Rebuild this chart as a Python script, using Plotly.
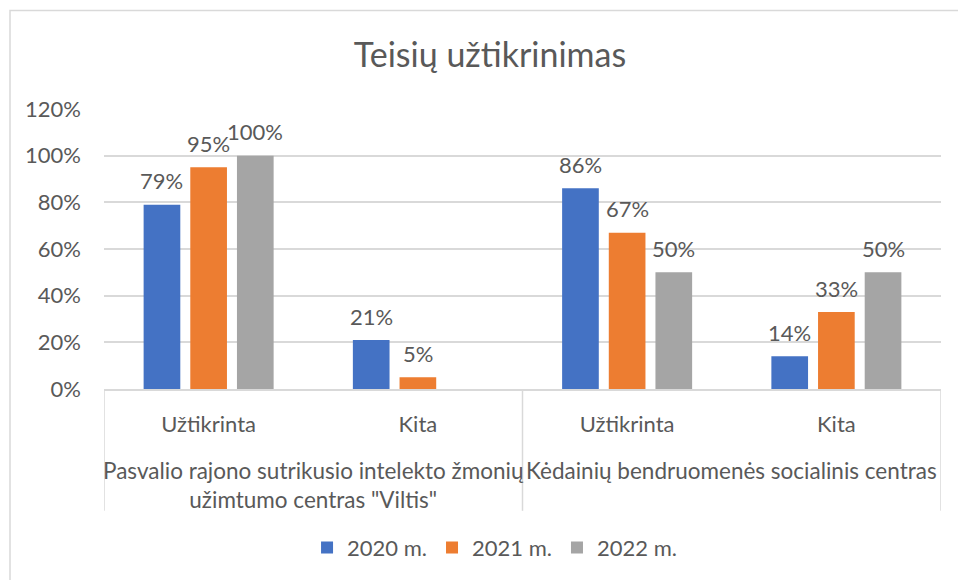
import plotly.graph_objects as go

# ---- data ----
groups = ['Pasvalio rajono sutrikusio intelekto žmonių<br>užimtumo centras "Viltis"',
          'Kėdainių bendruomenės socialinis centras']
subcats = ["Užtikrinta", "Kita", "Užtikrinta", "Kita"]
cat_group = [0, 0, 1, 1]
series_names = ["2020 m.", "2021 m.", "2022 m."]
values_2020 = [0.79, 0.21, 0.86, 0.14]
values_2021 = [0.95, 0.05, 0.67, 0.33]
values_2022 = [1.00, None, 0.50, 0.50]
y_ticks = [0, 0.2, 0.4, 0.6, 0.8, 1.0, 1.2]

colors = ["#4472C4", "#ED7D31", "#A5A5A5"]
TXT = "#595959"
GRID = "#D9D9D9"
FONT = "Lato"

W, H = 958, 580
ML, MR, MT, MB = 104, 17, 109, 191
BARGAP, GROUPGAP = 0.331, 0.214

xpos = list(range(len(subcats)))
all_series = [values_2020, values_2021, values_2022]

fig = go.Figure()
for name, vals, col in zip(series_names, all_series, colors):
    fig.add_trace(go.Bar(x=xpos, y=vals, name=name, marker_color=col, marker_line_width=0))

# data labels: annotations anchored to each bar's value through the axes
plot_w = W - ML - MR
slot_px = plot_w / len(xpos) * (1 - BARGAP) / len(all_series)
annotations = []
for si, vals in enumerate(all_series):
    shift = (si - (len(all_series) - 1) / 2) * slot_px
    for xi, v in zip(xpos, vals):
        if v is None:
            continue
        annotations.append(dict(x=xi, y=v, xref="x", yref="y", text=f"{round(v*100)}%",
                                showarrow=False, xshift=shift, yshift=24, yanchor="middle",
                                font=dict(family=FONT, size=22, color=TXT)))

# group labels and dividers
shapes = []
for gi, gname in enumerate(groups):
    members = [i for i, g in enumerate(cat_group) if g == gi]
    center = (members[0] + members[-1]) / 2
    annotations.append(dict(x=center, xref="x", y=-0.235, yref="paper", yanchor="top",
                            text=gname, showarrow=False, align="center",
                            font=dict(family=FONT, size=22.5, color=TXT)))
bounds = [-0.5] + [i + 0.5 for i in range(len(cat_group) - 1) if cat_group[i] != cat_group[i + 1]] + [len(cat_group) - 0.5]
for b in bounds:
    shapes.append(dict(type="line", xref="x", yref="paper", x0=b, x1=b, y0=0, y1=-0.435,
                       line=dict(color=GRID, width=1.5)))
# chart border
shapes.append(dict(type="rect", xref="paper", yref="paper", x0=-0.1123, x1=1.5, y0=-1.5, y1=1.352,
                   line=dict(color=GRID, width=1.5), layer="below"))

fig.update_layout(
    width=W, height=H,
    margin=dict(l=ML, r=MR, t=MT, b=MB),
    paper_bgcolor="white", plot_bgcolor="white",
    font=dict(family=FONT, color=TXT, size=22),
    title=dict(text="Teisių užtikrinimas", x=490/958, xanchor="center",
               y=(580-55)/580, yanchor="middle", yref="container",
               font=dict(family=FONT, size=34, color=TXT)),
    barmode="group", bargap=BARGAP, bargroupgap=GROUPGAP,
    showlegend=True,
    legend=dict(orientation="h", x=0.4666, xanchor="center", y=-0.567, yanchor="middle",
                font=dict(family=FONT, size=22, color=TXT), traceorder="normal"),
    annotations=annotations, shapes=shapes,
)
fig.update_xaxes(tickmode="array", tickvals=xpos, ticktext=subcats, range=[-0.5, 3.5],
                 showline=True, linecolor=GRID, linewidth=1.5, showgrid=False,
                 ticks="outside", ticklen=15, tickcolor="rgba(0,0,0,0)",
                 tickfont=dict(family=FONT, size=22, color=TXT))
fig.update_yaxes(range=[0, 1.2], tickvals=y_ticks, tickformat=".0%",
                 showgrid=True, gridcolor=GRID, gridwidth=1.5, zeroline=False,
                 showline=False, ticks="", ticklabelstandoff=22,
                 tickfont=dict(family=FONT, size=22, color=TXT))

fig.write_html("out.html")
